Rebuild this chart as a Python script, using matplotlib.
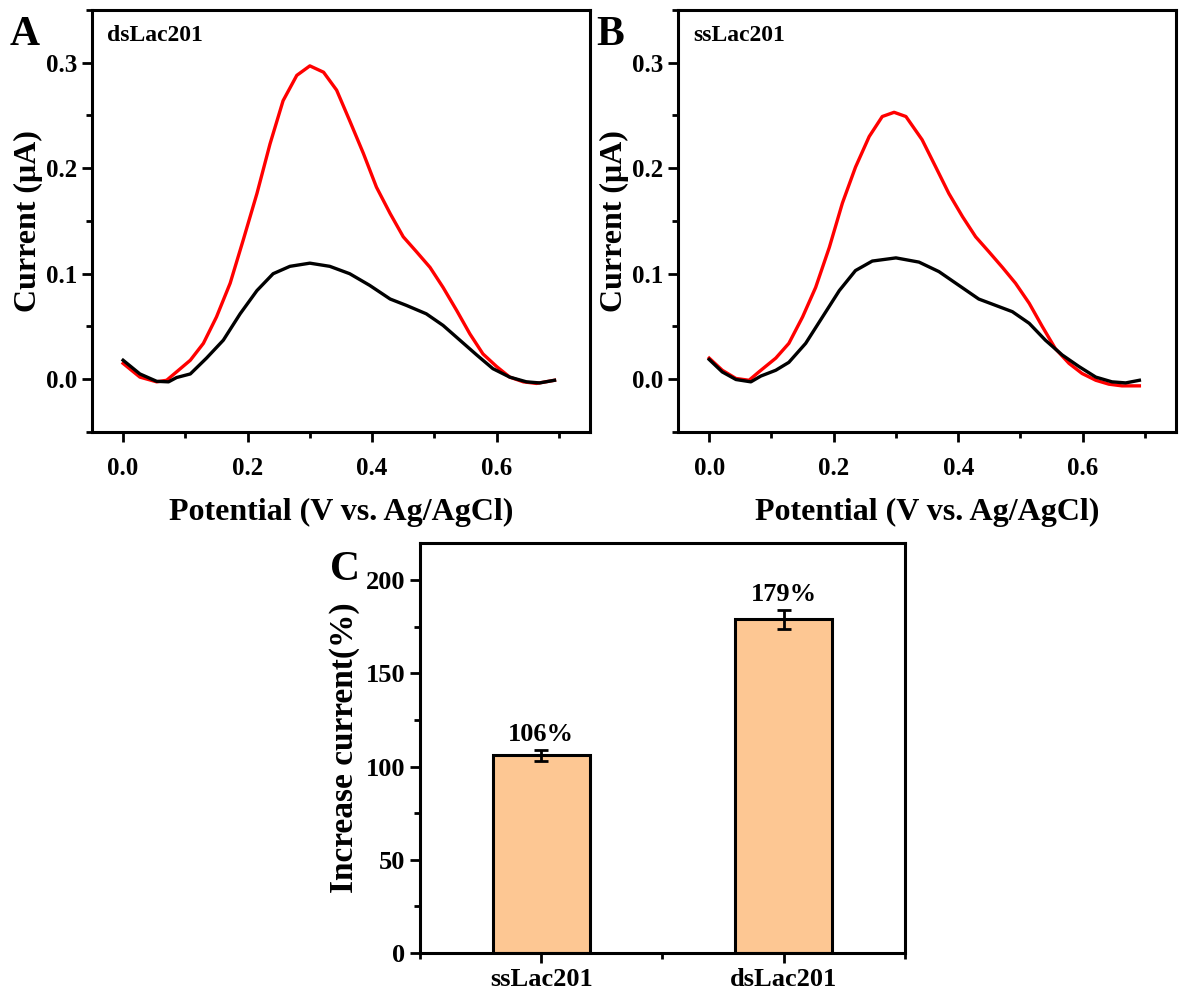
import matplotlib.pyplot as plt
from matplotlib.ticker import MultipleLocator

plt.rcParams['font.family'] = ['Liberation Serif', 'DejaVu Serif']
plt.rcParams['font.weight'] = 'bold'

# Panel A (dsLac201) - red / black DPV curves
a_red_x = [0.0, 0.027, 0.054, 0.070, 0.086, 0.108, 0.129, 0.150, 0.172, 0.193, 0.215, 0.236,
           0.257, 0.279, 0.300, 0.322, 0.343, 0.364, 0.386, 0.407, 0.429, 0.450, 0.471,
           0.493, 0.514, 0.536, 0.557, 0.578, 0.600, 0.621, 0.643, 0.664, 0.693]
a_red_y = [0.015, 0.002, -0.0025, -0.001, 0.007, 0.018, 0.034, 0.059, 0.091, 0.132, 0.176, 0.223,
           0.264, 0.288, 0.297, 0.291, 0.274, 0.245, 0.214, 0.182, 0.157, 0.135, 0.121,
           0.106, 0.087, 0.065, 0.043, 0.024, 0.012, 0.002, -0.0025, -0.004, -0.001]
a_blk_x = [0.0, 0.027, 0.054, 0.073, 0.086, 0.108, 0.134, 0.161, 0.188, 0.215, 0.241, 0.268,
           0.300, 0.332, 0.364, 0.396, 0.429, 0.455, 0.487, 0.514, 0.541, 0.568, 0.594,
           0.621, 0.648, 0.669, 0.693]
a_blk_y = [0.018, 0.005, -0.002, -0.0025, 0.0016, 0.005, 0.020, 0.037, 0.062, 0.084, 0.100, 0.107,
           0.110, 0.107, 0.100, 0.089, 0.076, 0.070, 0.062, 0.051, 0.037, 0.023, 0.010,
           0.002, -0.0025, -0.0035, -0.001]

# Panel B (ssLac201)
b_red_x = [0.0, 0.021, 0.043, 0.064, 0.080, 0.107, 0.128, 0.150, 0.171, 0.193, 0.214, 0.235,
           0.257, 0.278, 0.297, 0.316, 0.342, 0.364, 0.385, 0.407, 0.428, 0.449, 0.471,
           0.492, 0.514, 0.535, 0.556, 0.578, 0.599, 0.621, 0.642, 0.663, 0.691]
b_red_y = [0.020, 0.0085, 0.0007, -0.001, 0.007, 0.020, 0.034, 0.059, 0.087, 0.125, 0.167, 0.201,
           0.230, 0.249, 0.253, 0.249, 0.227, 0.201, 0.176, 0.154, 0.135, 0.121, 0.106,
           0.091, 0.072, 0.050, 0.029, 0.015, 0.0054, -0.001, -0.0047, -0.0063, -0.0063]
b_blk_x = [0.0, 0.021, 0.043, 0.067, 0.083, 0.107, 0.128, 0.155, 0.182, 0.209, 0.235, 0.262,
           0.300, 0.337, 0.369, 0.401, 0.433, 0.460, 0.487, 0.514, 0.540, 0.567, 0.594,
           0.621, 0.647, 0.669, 0.691]
b_blk_y = [0.0187, 0.0069, -0.0003, -0.0025, 0.003, 0.0085, 0.016, 0.034, 0.059, 0.084, 0.103, 0.112,
           0.115, 0.111, 0.102, 0.089, 0.076, 0.070, 0.064, 0.053, 0.037, 0.023, 0.012,
           0.002, -0.0025, -0.0035, -0.001]

# Panel C bars
c_labels = ['ssLac201', 'dsLac201']
c_values = [106, 179]
c_errors = [3, 5]
c_texts = ['106%', '179%']

fig = plt.figure(figsize=(11.85, 9.96), dpi=100)
axA = fig.add_axes([0.0776, 0.5663, 0.4203, 0.4237])
axB = fig.add_axes([0.5722, 0.5663, 0.4203, 0.4237])
axC = fig.add_axes([0.3544, 0.0432, 0.4093, 0.4116])


def style_axes(ax, size):
    for s in ax.spines.values():
        s.set_linewidth(2.2)
    ax.tick_params(which='both', direction='out', width=2, top=False, right=False,
                   labelsize=size)
    ax.tick_params(which='major', length=7)
    ax.tick_params(which='minor', length=4)
    for lab in ax.get_xticklabels() + ax.get_yticklabels():
        lab.set_fontweight('bold')


for ax, rx, ry, kx, ky, name, letter in [
        (axA, a_red_x, a_red_y, a_blk_x, a_blk_y, 'dsLac201', 'A'),
        (axB, b_red_x, b_red_y, b_blk_x, b_blk_y, 'ssLac201', 'B')]:
    ax.plot(rx, ry, color='#ff0000', lw=2.4, solid_joinstyle='round')
    ax.plot(kx, ky, color='black', lw=2.4, solid_joinstyle='round')
    ax.set_xlim(-0.05, 0.75)
    ax.set_ylim(-0.05, 0.35)
    ax.xaxis.set_minor_locator(MultipleLocator(0.1))
    ax.yaxis.set_minor_locator(MultipleLocator(0.05))
    ax.set_xticks([0.0, 0.2, 0.4, 0.6])
    ax.set_xticklabels(['0.0', '0.2', '0.4', '0.6'])
    ax.set_yticks([0.0, 0.1, 0.2, 0.3])
    ax.set_yticklabels(['0.0', '0.1', '0.2', '0.3'])
    style_axes(ax, 18)
    ax.tick_params(axis='x', pad=11)
    ax.set_xlabel('Potential (V vs. Ag/AgCl)', fontsize=23, fontweight='bold', labelpad=13)
    ax.set_ylabel('Current (μA)', fontsize=23, fontweight='bold', labelpad=2)
    ax.text(0.03, 0.94, name, transform=ax.transAxes, fontsize=17, fontweight='bold',
            va='center', ha='left')
    ax.text(-0.165, 0.94, letter, transform=ax.transAxes, fontsize=30, fontweight='bold',
            va='center', ha='left')

# Panel C
xpos = [0, 1]
axC.bar(xpos, c_values, width=0.4, color='#fdc793', edgecolor='black', linewidth=2.2,
        yerr=c_errors, capsize=5, error_kw={'elinewidth': 2, 'capthick': 2})
for x, v, e, t in zip(xpos, c_values, c_errors, c_texts):
    axC.text(x, v + e + 2, t, ha='center', va='bottom', fontsize=19, fontweight='bold')
axC.set_xlim(-0.5, 1.5)
axC.set_ylim(0, 220)
axC.set_xticks(xpos)
axC.set_xticklabels(c_labels)
axC.xaxis.set_minor_locator(MultipleLocator(0.5))
axC.yaxis.set_major_locator(MultipleLocator(50))
axC.yaxis.set_minor_locator(MultipleLocator(25))
style_axes(axC, 19)
axC.set_ylabel('Increase current(%)', fontsize=24, fontweight='bold', labelpad=4)
axC.text(-0.185, 0.935, 'C', transform=axC.transAxes, fontsize=30, fontweight='bold',
         va='center', ha='left')

fig.savefig('out.png', dpi=100)
